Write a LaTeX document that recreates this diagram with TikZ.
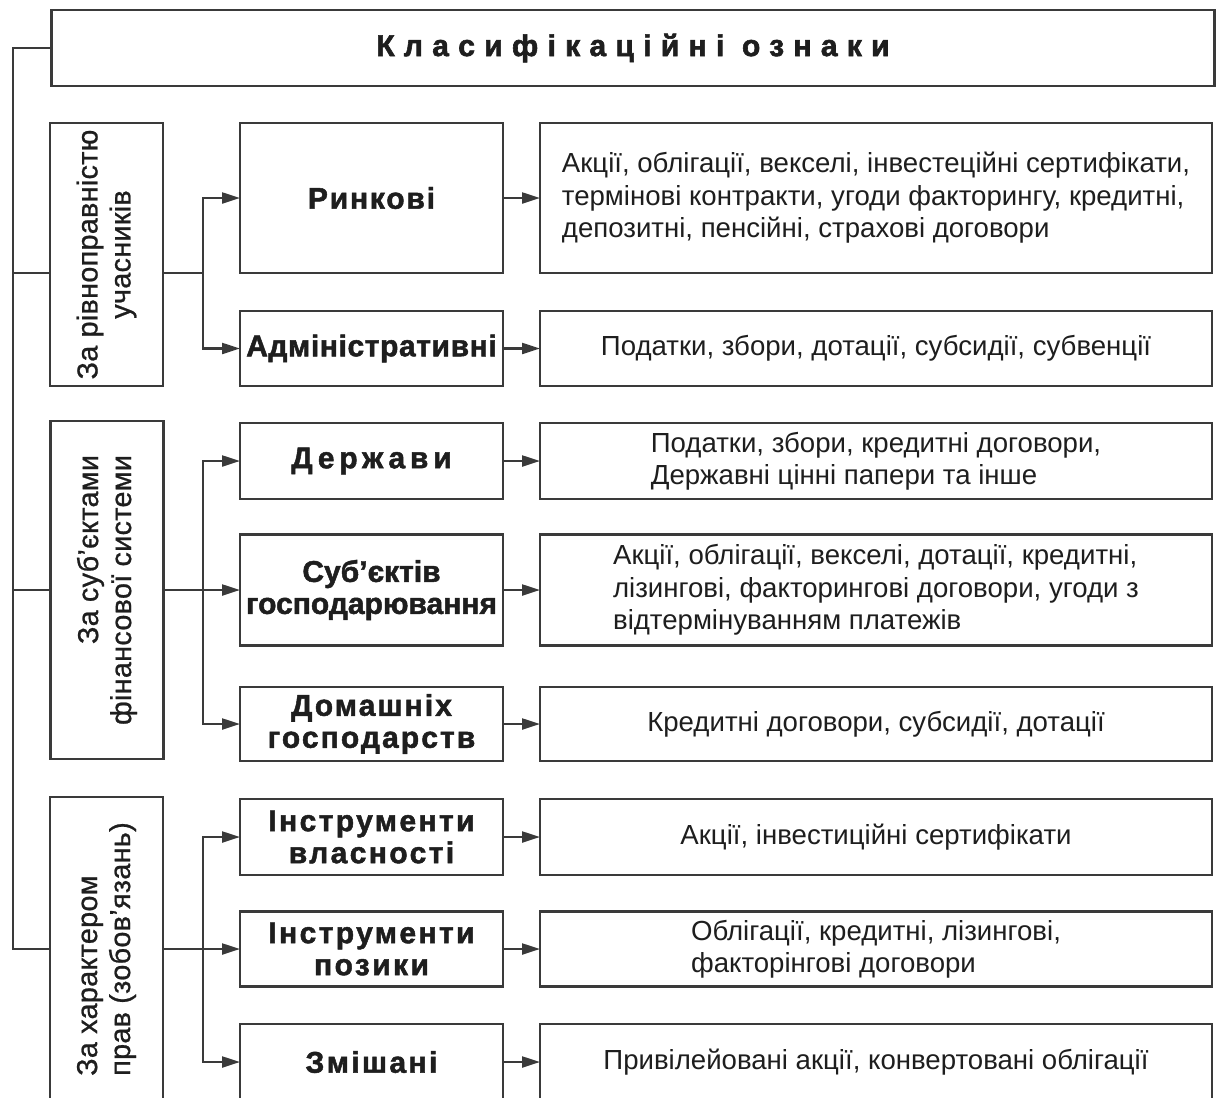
\documentclass[tikz,border=0pt]{standalone}
\usepackage{fontspec}
\setmainfont{Liberation Sans}
\newfontfamily\titlefont{Liberation Sans}[LetterSpace=31,FakeBold=2]
\newfontfamily\midfont{Liberation Sans}[FakeBold=1.6]
\newfontfamily\sidefont{Liberation Sans}[LetterSpace=1,FakeBold=0.8]
\usetikzlibrary{arrows.meta}
\definecolor{lc}{HTML}{3A3A3A}
\definecolor{tc}{HTML}{1E1E1E}
\newcommand{\mf}[1]{\midfont\bfseries\fontsize{15}{16}\selectfont\addfontfeatures{LetterSpace=#1}}
\begin{document}
\begin{tikzpicture}[x=0.5pt,y=-0.5pt,
  ln/.style={draw=lc, line width=1.1pt},
  box/.style={ln, rectangle, inner sep=0pt, outer sep=0pt, fill=white, text=tc},
  sidebox/.style={box, minimum width=56.5pt},
  midbox/.style={box, minimum width=131.5pt, align=center},
  rbox/.style={box, minimum width=336pt, align=left,
     font=\fontsize{13.8}{16.2}\selectfont},
  sidetext/.style={rotate=90, inner sep=0pt, text=tc,
     font=\sidefont\fontsize{14.4}{16.5}\selectfont},
  arr/.style={ln, -{Triangle[length=9pt,width=5.5pt]}}]
\useasboundingbox (0,0) rectangle (1216,1098);
\fill[white] (0,0) rectangle (1216,1098);
\begin{scope}
\clip (0,0) rectangle (1216,1098);
% title
\node[box, minimum width=581.5pt, minimum height=38pt,
  font=\titlefont\bfseries\fontsize{15}{16}\selectfont] (top) at (633,48) {Класифікаційні ознаки};
% left boxes
\node[sidebox, minimum height=131.5pt] (L1) at (106.5,254.5) {};
\node[sidebox, minimum height=169pt] (L2) at (107,590) {};
\node[sidebox, minimum height=152pt] (L3) at (106.5,949) {};
\node[sidetext, align=center] (T1) at (L1.center) {За рівноправністю\\учасників};
\node[sidetext, align=right] (T2) at (L2.center) {За суб’єктами\\фінансової системи};
\node[sidetext, align=left] (T3) at (L3.center) {За характером\\прав (зобов’язань)};
% middle boxes
\node[midbox, minimum height=75pt, font=\mf{6}] (M1) at (371.5,198) {Ринкові};
\node[midbox, minimum height=37.5pt, font=\mf{2}] (M2) at (371.5,348.5) {Адміністративні};
\node[midbox, minimum height=38pt, font=\mf{16}] (M3) at (371.5,461) {Держави};
\node[midbox, minimum height=55.5pt, font=\mf{0}] (M4) at (371.5,590) {Суб’єктів\\господарювання};
\node[midbox, minimum height=37pt, font=\mf{7}] (M5) at (371.5,724) {Домашніх\\господарств};
\node[midbox, minimum height=38pt, font=\mf{8}] (M6) at (371.5,837) {Інструменти\\власності};
\node[midbox, minimum height=37.5pt, font=\mf{8}] (M7) at (371.5,949) {Інструменти\\позики};
\node[midbox, minimum height=38pt, font=\mf{8}] (M8) at (371.5,1062) {Змішані};
% right boxes
\node[rbox, minimum height=75pt] (R1) at (876,198) {Акції, облігації, векселі, інвестеційні сертифікати,\\термінові контракти, угоди факторингу, кредитні,\\депозитні, пенсійні, страхові договори};
\node[rbox, minimum height=37.5pt] (R2) at (876,348.5) {Податки, збори, дотації, субсидії, субвенції};
\node[rbox, minimum height=38pt] (R3) at (876,461) {Податки, збори, кредитні договори,\\Державні цінні папери та інше};
\node[rbox, minimum height=55.5pt] (R4) at (876,590) {Акції, облігації, векселі, дотації, кредитні,\\лізингові, факторингові договори, угоди з\\відтермінуванням платежів};
\node[rbox, minimum height=37pt] (R5) at (876,724) {Кредитні договори, субсидії, дотації};
\node[rbox, minimum height=38pt] (R6) at (876,837) {Акції, інвестиційні сертифікати};
\node[rbox, minimum height=37.5pt] (R7) at (876,949) {Облігації, кредитні, лізингові,\\факторінгові договори};
\node[rbox, minimum height=38pt] (R8) at (876,1062) {Привілейовані акції, конвертовані облігації};
% spine
\coordinate (s) at (13,48);
\coordinate (k1) at (13,273);
\draw[ln] (top.west) -- (s) |- (L3.west);
\draw[ln] (k1) -- (L1.west |- k1);
\draw[ln] (s |- L2.west) -- (L2.west);
% group 1
\coordinate (j1) at (203,273);
\draw[ln] (L1.east |- j1) -- (j1);
\draw[arr] (j1) |- (M1.west);
\draw[arr] (j1) |- (M2.west);
% group 2
\coordinate (j2) at (203,590);
\draw[arr] (L2.east) -- (M4.west);
\draw[arr] (j2) |- (M3.west);
\draw[arr] (j2) |- (M5.west);
% group 3
\coordinate (j3) at (203,949);
\draw[arr] (L3.east) -- (M7.west);
\draw[arr] (j3) |- (M6.west);
\draw[arr] (j3) |- (M8.west);
% middle to right
\foreach \i in {1,...,8} { \draw[arr] (M\i.east) -- (R\i.west); }
\end{scope}
\end{tikzpicture}
\end{document}
